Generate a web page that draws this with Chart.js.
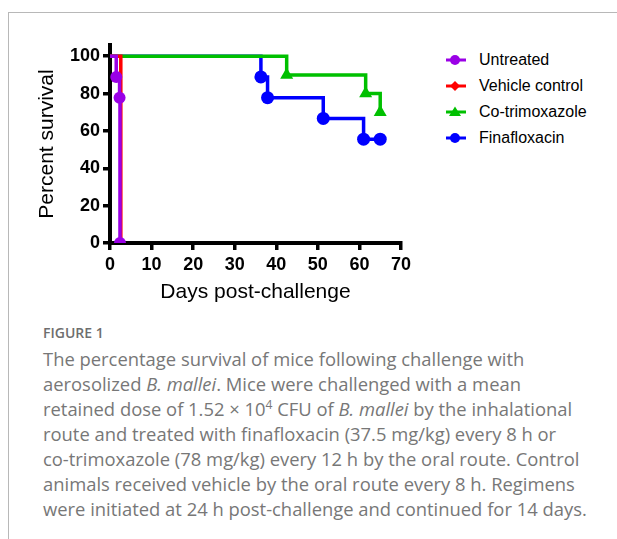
<!DOCTYPE html>
<html>
<head>
<meta charset="utf-8">
<script src="https://cdn.jsdelivr.net/npm/chart.js@4"></script>
<style>
  html, body { margin: 0; padding: 0; background: #fff; width: 617px; height: 539px; overflow: hidden; }
  #frame { position: absolute; left: 8px; top: 12px; width: 620px; height: 540px;
           border-top: 1px solid #b8b8b8; border-left: 1px solid #b8b8b8; }
  #chartBox { position: absolute; left: 0; top: 0; width: 440px; height: 310px; }
  #legend { position: absolute; left: 445px; top: 47px; font-family: "Liberation Sans", Arial, sans-serif;
            font-size: 16px; color: #000; }
  .item { height: 26px; display: flex; align-items: center; }
  .item svg { margin-right: 12px; }
  #figLabel { position: absolute; left: 43px; top: 323px; font-family: "Open Sans", sans-serif;
              font-size: 14px; font-weight: 600; color: #6e6e6e; }
  #caption { position: absolute; left: 43px; top: 346px; font-family: "Open Sans", sans-serif;
             font-size: 18.4px; font-weight: 400; line-height: 25px; color: #777; white-space: nowrap; }
</style>
</head>
<body>
<div id="frame"></div>
<div id="chartBox"><canvas id="grafica" width="440" height="310"></canvas></div>
<div id="legend"></div>
<div id="figLabel">FIGURE 1</div>
<div id="caption">
The percentage survival of mice following challenge with<br>
aerosolized <i>B. mallei</i>. Mice were challenged with a mean<br>
retained dose of 1.52 × 10<sup style="font-size:12px;line-height:0">4</sup> CFU of <i>B. mallei</i> by the inhalational<br>
route and treated with finafloxacin (37.5 mg/kg) every 8 h or<br>
co-trimoxazole (78 mg/kg) every 12 h by the oral route. Control<br>
animals received vehicle by the oral route every 8 h. Regimens<br>
were initiated at 24 h post-challenge and continued for 14 days.
</div>
<script>
// Datos de supervivencia (días post-challenge, % supervivencia)
const untreatedDays = [0, 1.5, 2.3, 2.4];
const untreatedSurvival = [100, 88.9, 77.8, 0];
const vehicleDays = [0, 2.6];
const vehicleSurvival = [100, 0];
const cotrimDays = [0, 42.5, 61.5, 65];
const cotrimSurvival = [100, 90, 80, 70];
const finaDays = [0, 36.3, 37.9, 51.3, 61, 65];
const finaSurvival = [100, 88.9, 77.8, 66.7, 55.6, 55.6];

const seriesNames = ['Untreated', 'Vehicle control', 'Co-trimoxazole', 'Finafloxacin'];
const seriesColors = ['#9a00e6', '#ff0000', '#00c000', '#0000ff'];
const seriesMarkers = ['circle', 'rectRot', 'triangle', 'circle'];
const xTicks = [0, 10, 20, 30, 40, 50, 60, 70];
const yTicks = [0, 20, 40, 60, 80, 100];

function toPoints(days, values) {
    return days.map((d, i) => ({ x: d, y: values[i] }));
}

const allSeries = [
    toPoints(untreatedDays, untreatedSurvival),
    toPoints(vehicleDays, vehicleSurvival),
    toPoints(cotrimDays, cotrimSurvival),
    toPoints(finaDays, finaSurvival)
];
const markerSizes = [6, 5, 7.5, 6.5];

const datasets = allSeries.map((pts, i) => ({
    label: seriesNames[i],
    data: pts,
    borderColor: seriesColors[i],
    backgroundColor: seriesColors[i],
    borderWidth: 3.5,
    stepped: true,
    pointStyle: seriesMarkers[i],
    // sin marcador en el punto inicial
    pointRadius: pts.map((p, j) => j === 0 ? 0 : markerSizes[i]),
    pointBorderWidth: 0,
    fill: false
}));

const ctx = document.getElementById('grafica').getContext('2d');
new Chart(ctx, {
    type: 'line',
    data: { datasets: datasets },
    options: {
        responsive: false,
        animation: false,
        layout: { padding: { top: 45, right: 39, left: 0, bottom: 0 } },
        plugins: { legend: { display: false }, tooltip: { enabled: false } },
        scales: {
            x: {
                type: 'linear',
                min: 0,
                max: 70,
                afterFit: s => { s.height = 67; },
                border: { color: '#000', width: 4 },
                grid: { drawOnChartArea: false, drawTicks: true, tickLength: 7, color: '#000', lineWidth: 3.5 },
                ticks: {
                    stepSize: 10,
                    color: '#000',
                    font: { family: 'Liberation Sans', size: 18, weight: 'bold' },
                    padding: 4,
                    maxRotation: 0,
                    callback: v => xTicks.includes(v) ? v : ''
                },
                title: {
                    display: true,
                    text: 'Days post-challenge',
                    color: '#000',
                    font: { family: 'Liberation Sans', size: 21 },
                    padding: { top: 0, bottom: 5 }
                }
            },
            y: {
                min: 0,
                max: 106,
                afterFit: s => { s.width = 110; },
                border: { color: '#000', width: 4 },
                grid: { drawOnChartArea: false, drawTicks: true, tickLength: 7, color: '#000', lineWidth: 3.5 },
                ticks: {
                    stepSize: 20,
                    includeBounds: false,
                    color: '#000',
                    font: { family: 'Liberation Sans', size: 18, weight: 'bold' },
                    padding: 3,
                    callback: v => yTicks.includes(v) ? v : ''
                },
                title: {
                    display: true,
                    text: 'Percent survival',
                    color: '#000',
                    font: { family: 'Liberation Sans', size: 21 },
                    padding: { top: 35, bottom: 0 }
                }
            }
        }
    }
});

// Leyenda en HTML: línea con marcador
function markerSvg(style, color) {
    let shape = '';
    if (style === 'circle') shape = `<circle cx="10" cy="7" r="5" fill="${color}"/>`;
    if (style === 'rectRot') shape = `<polygon points="10,2 15,7 10,12 5,7" fill="${color}"/>`;
    if (style === 'triangle') shape = `<polygon points="10,1.5 16,11 4,11" fill="${color}"/>`;
    return `<svg width="22" height="14"><line x1="1" y1="7" x2="21" y2="7" stroke="${color}" stroke-width="3"/>${shape}</svg>`;
}
const legend = document.getElementById('legend');
seriesNames.forEach((name, i) => {
    const div = document.createElement('div');
    div.className = 'item';
    div.innerHTML = markerSvg(seriesMarkers[i], seriesColors[i]) + '<span>' + name + '</span>';
    legend.appendChild(div);
});
</script>
</body>
</html>
